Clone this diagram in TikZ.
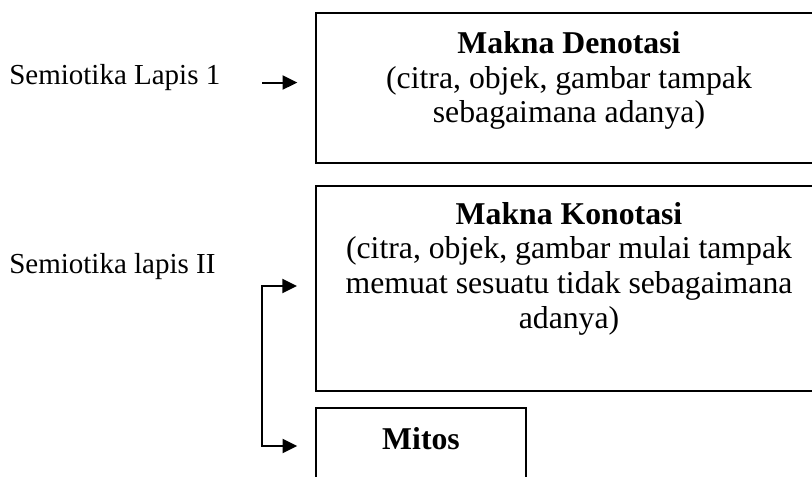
\documentclass[tikz,border=0pt]{standalone}
\usepackage{fontspec}
\setmainfont{Liberation Serif}
\usetikzlibrary{arrows.meta}
\tikzset{
  boxstyle/.style={draw=black, rectangle, inner sep=0pt, align=center,
    font=\fontsize{23.8pt}{26pt}\selectfont},
  labstyle/.style={inner sep=0pt, anchor=base west,
    font=\fontsize{21.75pt}{26pt}\selectfont},
  arr/.style={line width=1.5pt, -{Triangle[length=11pt,width=10.5pt]}},
  biarr/.style={line width=1.5pt, {Triangle[length=11pt,width=10.5pt]}-{Triangle[length=11pt,width=10.5pt]}, line join=miter}
}
\begin{document}
\begin{tikzpicture}[x=0.75pt,y=-0.75pt]
\clip (0,0) rectangle (812,476);
\fill[white] (0,0) rectangle (812,476);

% boxes
\node[boxstyle, line width=1pt, minimum width=379.5pt, minimum height=112.5pt] (den) at (569,88)
  {\rule{0pt}{20pt}\textbf{Makna Denotasi}\\
   (citra, objek, gambar tampak\\
   sebagaimana adanya)\rule[-20pt]{0pt}{20pt}};
\node[boxstyle, line width=1.5pt, minimum width=379.5pt, minimum height=153.75pt] (kon) at (569,288.5)
  {\rule{0pt}{17pt}\textbf{Makna Konotasi}\\
   (citra, objek, gambar mulai tampak\hspace*{7.5pt}\\
   memuat sesuatu tidak sebagaimana\hspace*{7.5pt}\\
   adanya)\rule[-35.75pt]{0pt}{35.75pt}};
\node[boxstyle, line width=1.1pt, minimum width=157.5pt, minimum height=61.5pt] (mit) at (421,449)
  {\rule[-17pt]{0pt}{34pt}\textbf{Mitos}};

% labels
\node[labstyle] (lab1) at (9,84) {Semiotika Lapis 1};
\node[labstyle] (lab2) at (9,273) {Semiotika lapis II};

% arrow coordinates
\coordinate (a1s) at (262,82.5);
\coordinate (a1e) at ([xshift=-13.5pt]den.west |- a1s);
\coordinate (b1) at ([xshift=-13.5pt]kon.west |- 0,286);
\coordinate (b2) at ([xshift=-13.5pt]mit.west |- 0,446);
\coordinate (c1) at (261.5,286);
\coordinate (c2) at (261.5,446);

\draw[arr] (a1s) -- (a1e);
\draw[biarr] (b1) -- (c1) -- (c2) -- (b2);
\end{tikzpicture}
\end{document}
